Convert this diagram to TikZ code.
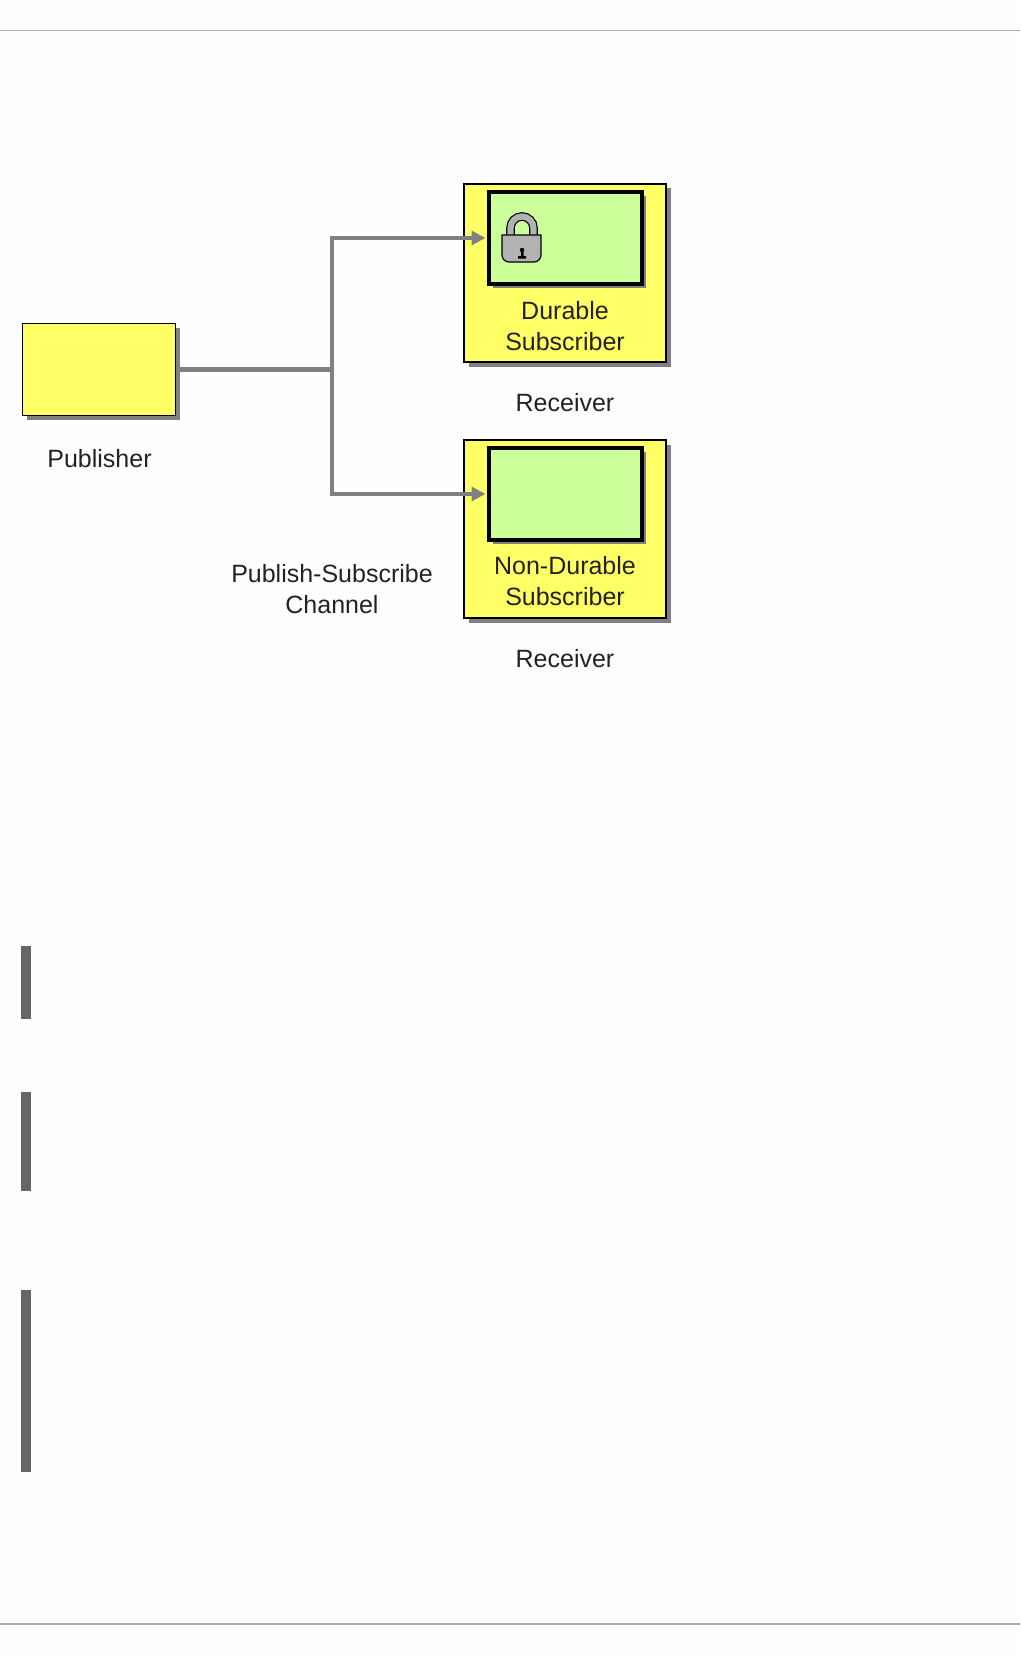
\documentclass[tikz,border=0pt]{standalone}
\usepackage{fontspec}
\setmainfont{Liberation Sans}
\usetikzlibrary{positioning,arrows.meta,shadows,calc}
\definecolor{boxyellow}{RGB}{255,255,102}
\definecolor{boxgreen}{RGB}{204,255,153}
\definecolor{wire}{RGB}{128,128,128}
\definecolor{lockgrey}{RGB}{178,178,178}
\definecolor{ink}{RGB}{34,34,34}
\definecolor{barc}{RGB}{102,102,102}

\begin{document}
\begin{tikzpicture}[
  x=1pt, y=-1pt,
  font=\fontsize{25}{31}\selectfont,
  lbl/.style={text=ink, align=center, inner sep=0pt},
  ybox/.style={draw=black, fill=boxyellow, line width=1.3pt, inner sep=0pt, outer sep=0pt,
               drop shadow={shadow xshift=4.5pt, shadow yshift=-4.5pt, fill=wire, opacity=1}},
  gbox/.style={draw=black, fill=boxgreen, line width=4pt, inner sep=0pt, outer sep=0pt,
               minimum width=153pt, minimum height=92pt,
               drop shadow={shadow xshift=4pt, shadow yshift=-4pt, fill=wire, opacity=1}},
  recv/.style={ybox, minimum width=202pt, minimum height=178pt},
  ar/.style={-{Triangle[length=14pt,width=14pt]}, draw=wire, line width=4.2pt, shorten >=3pt},
  wr/.style={draw=wire, line width=4.2pt},
  rulel/.style={draw=black!32, line width=1.2pt},
  bar/.style={fill=barc},
]
\useasboundingbox (0,0) rectangle (1020,1656);
\fill[white!99.5!black] (0,0) rectangle (1020,1656);

\draw[rulel] (0,30.5) -- (1020,30.5);
\draw[rulel] (0,1624) -- (1020,1624);

\node[ybox, minimum width=153pt, minimum height=92pt] (pub) at (99,369.5) {};
\node[recv] (durrecv) at (565,273) {};
\node[recv] (nonrecv) at (565,529) {};
\node[gbox] (dursub) at (565,238) {};
\node[gbox] (nonsub) at (565,494) {};

\coordinate (split) at (332,369.5);

\draw[wr] (pub) -- (split);
\draw[ar] (split) |- (dursub.west);
\draw[ar] (split) |- (nonsub.west);

% padlock
\draw[black, line width=8.6pt] (510.5,237) -- (510.5,228) arc[start angle=180, end angle=0, radius=11.5pt] -- (533.5,237);
\draw[lockgrey, line width=6.2pt] (510.5,237) -- (510.5,228) arc[start angle=180, end angle=0, radius=11.5pt] -- (533.5,237);
\draw[fill=lockgrey, line width=1.2pt] (502,235) -- (541,235) [rounded corners=7pt] -- (541,262) -- (502,262) [sharp corners] -- cycle;
\fill[black] (522,250) circle[radius=2.2pt] (521,250) rectangle (523.5,256) (518,256) rectangle (526,258.5);

\node[lbl] (durlbl) at (565,326) {Durable\\Subscriber};
\node[lbl] (nonlbl) at (565,581.5) {Non-Durable\\Subscriber};
\node[lbl] (durname) at (565,402.5) {Receiver};
\node[lbl] (nonname) at (565,658.5) {Receiver};
\node[lbl] (publbl) at (99.5,458.5) {Publisher};
\node[lbl] (chan) at (332,589) {Publish-Subscribe\\Channel};

\fill[bar] (21,946) rectangle (31,1019);
\fill[bar] (21,1092) rectangle (31,1191);
\fill[bar] (21,1290) rectangle (31,1472);
\end{tikzpicture}
\end{document}
